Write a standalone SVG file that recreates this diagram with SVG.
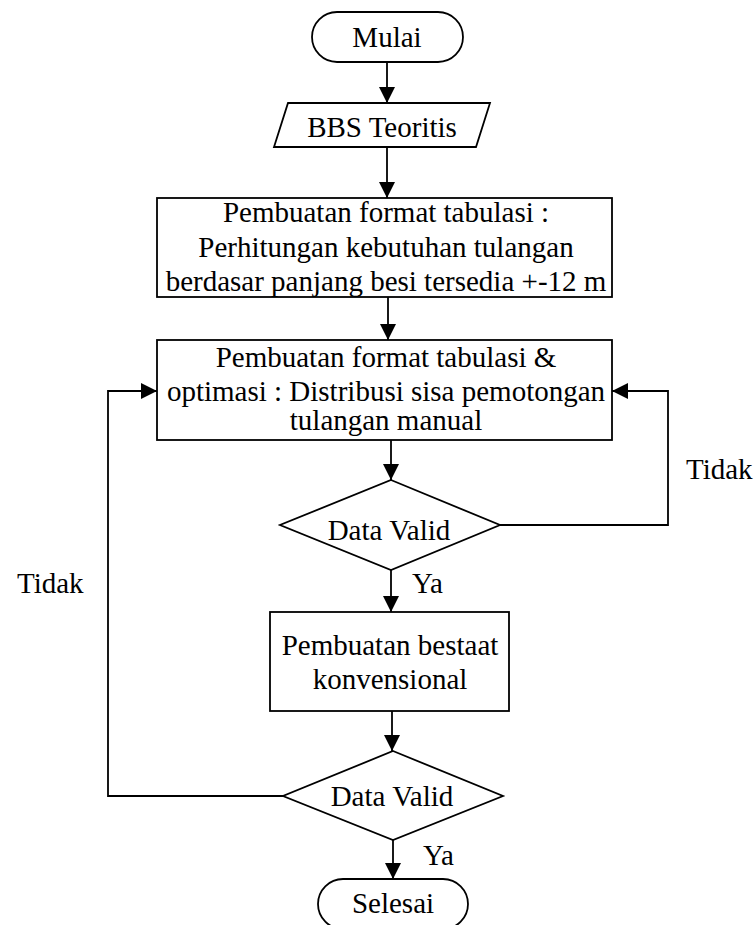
<svg xmlns="http://www.w3.org/2000/svg" width="755" height="925" viewBox="0 0 755 925">
<style>
.s{fill:#fff;stroke:#000;stroke-width:1.8}
.c{fill:none;stroke:#000;stroke-width:1.8}
text{font-family:"Liberation Serif","Times New Roman",serif;font-size:29px;fill:#000}
.m{text-anchor:middle}
</style>
<defs>
<marker id="a" viewBox="0 0 16 16" refX="16" refY="8" markerWidth="16" markerHeight="16" markerUnits="userSpaceOnUse" orient="auto">
<path d="M0,0 L16,8 L0,16 Z" fill="#000"/>
</marker>
</defs>
<g id="connectors">
<line class="c" x1="387" y1="62" x2="387" y2="103" marker-end="url(#a)"/>
<line class="c" x1="387" y1="147" x2="387" y2="198" marker-end="url(#a)"/>
<line class="c" x1="388" y1="297" x2="388" y2="340" marker-end="url(#a)"/>
<line class="c" x1="391" y1="440" x2="391" y2="480" marker-end="url(#a)"/>
<polyline class="c" points="500,525 668,525 668,391 612,391" marker-end="url(#a)"/>
<line class="c" x1="391" y1="570" x2="391" y2="612" marker-end="url(#a)"/>
<line class="c" x1="392" y1="711" x2="392" y2="751" marker-end="url(#a)"/>
<polyline class="c" points="283,796 108,796 108,391 157,391" marker-end="url(#a)"/>
<line class="c" x1="393" y1="840" x2="393" y2="879" marker-end="url(#a)"/>
<text x="686" y="479">Tidak</text>
<text x="17" y="593">Tidak</text>
<text x="412" y="593">Ya</text>
<text x="423" y="865">Ya</text>
</g>
<g id="start">
<rect class="s" x="312" y="12" width="151" height="50" rx="25"/>
<text class="m" x="387" y="47">Mulai</text>
</g>
<g id="input">
<polygon class="s" points="288,103 490,103 476,147 274,147"/>
<text class="m" x="382" y="137">BBS Teoritis</text>
</g>
<g id="box1">
<rect class="s" x="157" y="198" width="455" height="99"/>
<text class="m" x="386" y="222">Pembuatan format tabulasi :</text>
<text class="m" x="386" y="257">Perhitungan kebutuhan tulangan</text>
<text class="m" x="386" y="291">berdasar panjang besi tersedia +-12 m</text>
</g>
<g id="box2">
<rect class="s" x="157" y="340" width="455" height="100"/>
<text class="m" x="386" y="367">Pembuatan format tabulasi &amp;</text>
<text class="m" x="386" y="401">optimasi : Distribusi sisa pemotongan</text>
<text class="m" x="386" y="430">tulangan manual</text>
</g>
<g id="decision1">
<polygon class="s" points="391,480 500,525 391,570 280,525"/>
<text class="m" x="389" y="540">Data Valid</text>
</g>
<g id="box3">
<rect class="s" x="270" y="612" width="239" height="99"/>
<text class="m" x="390" y="655">Pembuatan bestaat</text>
<text class="m" x="390" y="689">konvensional</text>
</g>
<g id="decision2">
<polygon class="s" points="393,751 503,796 393,840 283,796"/>
<text class="m" x="392" y="806">Data Valid</text>
</g>
<g id="end">
<rect class="s" x="318" y="879" width="150" height="50" rx="25"/>
<text class="m" x="393" y="913">Selesai</text>
</g>
</svg>
